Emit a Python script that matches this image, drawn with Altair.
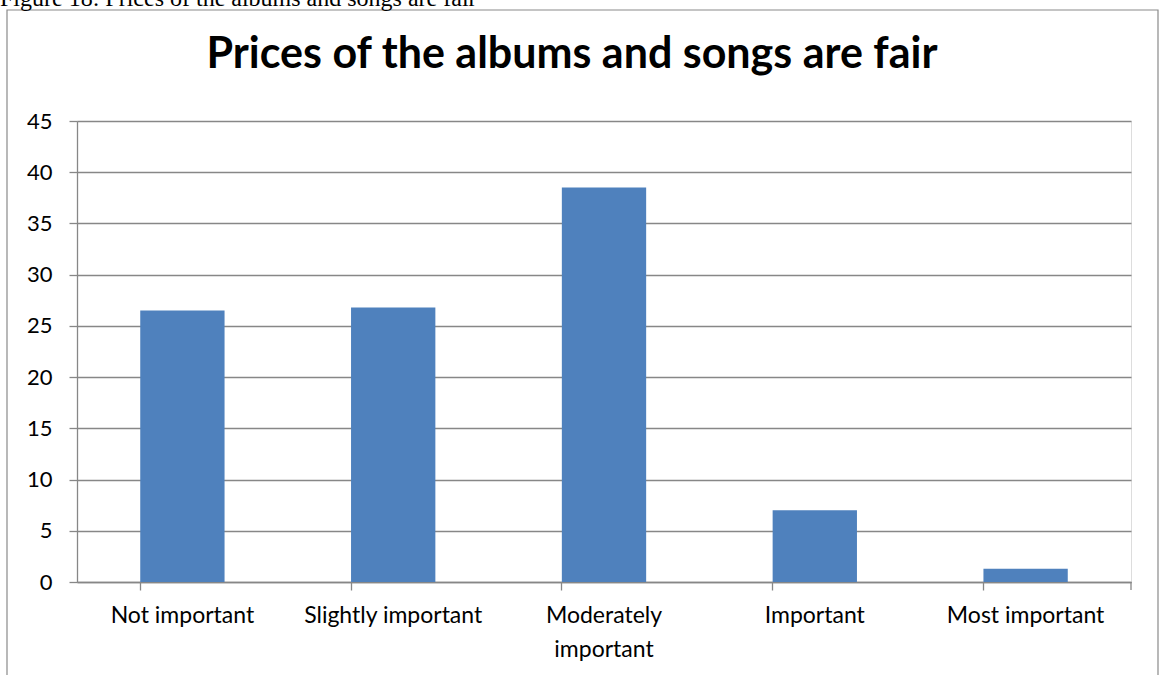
import altair as alt
import pandas as pd

categories = ["Not important", "Slightly important", "Moderately important", "Important", "Most important"]
values = [26.5, 26.8, 38.5, 7.0, 1.3]
y_ticks = [0, 5, 10, 15, 20, 25, 30, 35, 40, 45]
title_text = ["Prices of the albums and songs are fair"]
caption_text = ["Figure 18: Prices of the albums and songs are fair"]

df = pd.DataFrame({"category": categories, "value": values})

W, H = 1054, 461
L, T = 77, 121
grid = "#878787"

bars = alt.Chart(df).mark_bar(color="#4F81BD").encode(
    x=alt.X(
        "category:N", sort=categories,
        scale=alt.Scale(paddingInner=0.6, paddingOuter=0.3),
        axis=alt.Axis(
            title=None, labelAngle=0, bandPosition=0, tickSize=8, ticks=True,
            domainColor=grid, tickColor=grid, domainWidth=1.3, tickWidth=1.3,
            labelFont="Lato", labelFontSize=23, labelColor="black",
            labelPadding=14, labelLimit=400, labelLineHeight=34,
            labelExpr="datum.label == 'Moderately important' ? ['Moderately', 'important'] : datum.label",
            grid=False,
        ),
    ),
    y=alt.Y(
        "value:Q", scale=alt.Scale(domain=[0, 45], nice=False),
        axis=alt.Axis(
            title=None, values=y_ticks, grid=True, gridColor=grid, gridWidth=1.3,
            domainColor=grid, tickColor=grid, domainWidth=1.3, tickWidth=1.3,
            tickSize=8, labelFont="Lato", labelFontSize=22, labelColor="black",
            labelPadding=17,
        ),
    ),
)

end_tick = alt.Chart(pd.DataFrame({"a": [0]})).mark_rule(color=grid, strokeWidth=1.3).encode(
    x=alt.value(W), y=alt.value(H), y2=alt.value(H + 8)
)

title = alt.Chart(pd.DataFrame({"t": title_text})).mark_text(
    font="Lato", fontSize=43, fontWeight="bold", align="center", baseline="alphabetic", color="black"
).encode(x=alt.value(572 - L), y=alt.value(68 - T), text="t:N")

caption = alt.Chart(pd.DataFrame({"t": caption_text})).mark_text(
    font="Liberation Serif", fontSize=24, align="left", baseline="alphabetic", color="black"
).encode(x=alt.value(0 - L), y=alt.value(6 - T), text="t:N")

frame = alt.Chart(pd.DataFrame({"a": [0]})).mark_rect(
    fillOpacity=0, stroke="#8a8a8a", strokeWidth=1.2
).encode(
    x=alt.value(7 - L), x2=alt.value(1158 - L), y=alt.value(10 - T), y2=alt.value(700 - T)
)

chart = alt.layer(frame, bars, end_tick, title, caption).properties(
    width=W, height=H,
    padding={"left": L, "top": T, "right": 1160 - L - W, "bottom": 675 - T - H},
    autosize=alt.AutoSizeParams(type="none"),
).configure_view(stroke=None).configure(background="white")

chart.save("out.html", embed_options={"renderer": "svg", "actions": False})
